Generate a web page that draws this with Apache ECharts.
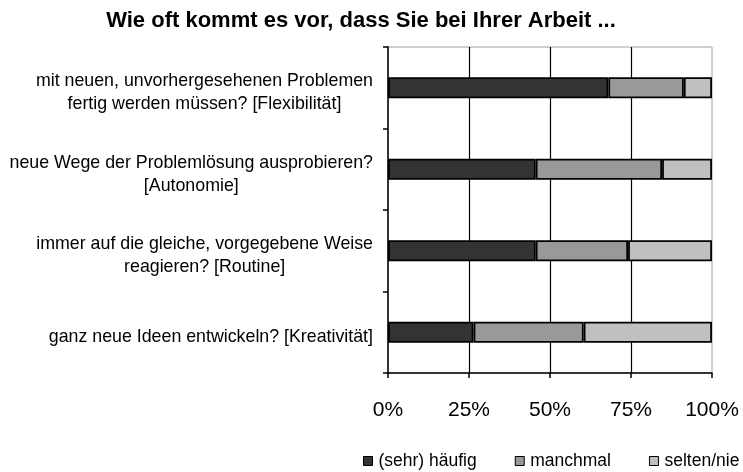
<!DOCTYPE html>
<html>
<head>
<meta charset="utf-8">
<script src="https://cdn.jsdelivr.net/npm/echarts@6/dist/echarts.min.js"></script>
<style>html,body{margin:0;padding:0;background:#fff;}#c{width:743px;height:472px;}</style>
</head>
<body>
<div id="c"></div>
<script>
const titleText = 'Wie oft kommt es vor, dass Sie bei Ihrer Arbeit ...';
const categories = [
  'mit neuen, unvorhergesehenen Problemen\nfertig werden müssen? [Flexibilität]',
  'neue Wege der Problemlösung ausprobieren?\n[Autonomie]',
  'immer auf die gleiche, vorgegebene Weise\nreagieren? [Routine]',
  'ganz neue Ideen entwickeln? [Kreativität]'
];
const seriesNames = ['(sehr) häufig', 'manchmal', 'selten/nie'];
const haeufig = [68, 45.6, 45.6, 26.4];
const manchmal = [23.3, 39, 28.5, 34];
const selten = [8.7, 15.4, 25.9, 39.6];
const xTicks = [0, 25, 50, 75, 100];
const colors = ['#333333', '#999999', '#c0c0c0'];

const FONT = '"Liberation Sans", Arial, sans-serif';
const chart = echarts.init(document.getElementById('c'));
const values = [haeufig, manchmal, selten];
chart.setOption({
  animation: false,
  backgroundColor: '#ffffff',
  title: {
    text: titleText,
    left: 356,
    textAlign: 'center',
    top: 5,
    textStyle: { fontFamily: FONT, fontWeight: 'bold', fontSize: 22, color: '#000' }
  },
  legend: {
    data: seriesNames,
    left: 363,
    top: 452,
    width: 600,
    padding: 0,
    icon: 'rect',
    itemWidth: 9,
    itemHeight: 9,
    itemGap: 38,
    itemStyle: { borderColor: '#000', borderWidth: 1 },
    textStyle: { fontFamily: FONT, fontSize: 17.5, color: '#000', padding: [0, 0, 0, 1] }
  },
  grid: {
    left: 388, right: 31, top: 47, bottom: 99,
    show: true, borderColor: '#a0a0a0', borderWidth: 1, containLabel: false
  },
  xAxis: {
    type: 'value',
    min: xTicks[0], max: xTicks[xTicks.length - 1], interval: 25,
    axisLine: { show: true, lineStyle: { color: '#000', width: 1.5 } },
    axisTick: { show: true, length: 5, lineStyle: { color: '#000', width: 1.5 } },
    splitLine: { show: true, showMinLine: false, showMaxLine: false, lineStyle: { color: '#000', width: 1.2 } },
    axisLabel: { formatter: '{value}%', margin: 27, fontFamily: FONT, fontSize: 21, color: '#000' }
  },
  yAxis: {
    type: 'category',
    data: categories,
    inverse: true,
    axisLine: { show: true, lineStyle: { color: '#000', width: 1.5 } },
    axisTick: { show: true, length: 5, lineStyle: { color: '#000', width: 1.5 } },
    axisLabel: {
      margin: 15,
      padding: [10, 0, 0, 0],
      formatter: v => v.split('\n').map(s => '{c|' + s + '}').join('\n'),
      rich: { c: { fontFamily: FONT, fontSize: 17.8, lineHeight: 23, align: 'center', color: '#000' } }
    }
  },
  series: seriesNames.map((n, i) => ({
    name: n,
    type: 'bar',
    stack: 'total',
    barWidth: 21,
    data: values[i],
    itemStyle: { color: colors[i], borderColor: '#000', borderWidth: 1.8 }
  }))
});
</script>
</body>
</html>
